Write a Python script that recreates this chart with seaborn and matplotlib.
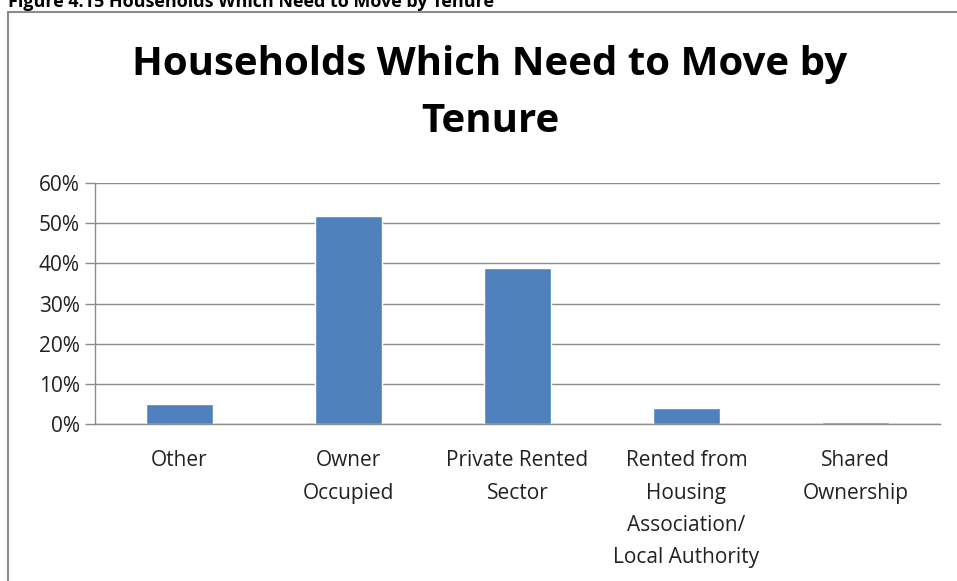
import seaborn as sns
import matplotlib.pyplot as plt
from matplotlib.patches import Rectangle
from matplotlib.ticker import FuncFormatter, FixedLocator

# Data
tenures = ["Other", "Owner\nOccupied", "Private Rented\nSector",
           "Rented from\nHousing\nAssociation/\nLocal Authority", "Shared\nOwnership"]
shares = [5.0, 51.8, 38.8, 3.9, 0.5]
y_ticks = [0, 10, 20, 30, 40, 50, 60]

sns.set_theme(style="white")
plt.rcParams["font.family"] = ["Open Sans", "DejaVu Sans"]

W, H = 957, 581
fig = plt.figure(figsize=(W / 100, H / 100), dpi=100)

# outer chart frame (cut off at right/bottom)
fig.patches.append(Rectangle((8 / W, -0.1), 1.2, 1 - 12 / H + 0.1, transform=fig.transFigure,
                             fill=False, edgecolor="#8c8c8c", linewidth=1.5))

# caption above the frame, cut off at the top as in the source
fig.text(8 / W, 1 - 7 / H, "Figure 4.15 Households Which Need to Move by Tenure",
         fontsize=13, fontweight="bold", ha="left", va="baseline", color="black")

ax = fig.add_axes([95 / W, 1 - 424 / H, (940 - 95) / W, (424 - 183) / H])
sns.barplot(x=list(range(len(tenures))), y=shares, color="#4F81BD", width=0.4,
            saturation=1, ax=ax, native_scale=True)

ax.set_xlim(-0.5, len(tenures) - 0.5)
ax.set_ylim(0, 60)
ax.set_yticks(y_ticks)
ax.yaxis.set_major_formatter(FuncFormatter(lambda v, p: f"{v:.0f}%"))
ax.set_xticks(range(len(tenures)))
ax.set_xticklabels(tenures, fontsize=15, linespacing=1.7, va="top")
ax.xaxis.set_minor_locator(FixedLocator([i - 0.5 for i in range(len(tenures) + 1)]))
ax.tick_params(axis="x", which="major", length=0, pad=19, colors="#222222")
ax.tick_params(axis="x", which="minor", length=8, width=1, color="#8c8c8c", direction="out")
ax.tick_params(axis="y", length=7, width=1, color="#8c8c8c", labelsize=15,
               labelcolor="#222222", pad=4, left=True, direction="out")
ax.grid(axis="y", color="#8c8c8c", linewidth=1)
ax.set_axisbelow(True)
for side in ["top", "right"]:
    ax.spines[side].set_visible(False)
for side in ["left", "bottom"]:
    ax.spines[side].set_color("#8c8c8c")
    ax.spines[side].set_linewidth(1)
ax.set_xlabel("")
ax.set_ylabel("")

fig.text(490 / W, 1 - 65 / H, "Households Which Need to Move by", fontsize=29,
         fontweight="bold", ha="center", va="center", color="black")
fig.text(490 / W, 1 - 121 / H, "Tenure", fontsize=29, fontweight="bold",
         ha="center", va="center", color="black")

fig.savefig("out.png", dpi=100)
